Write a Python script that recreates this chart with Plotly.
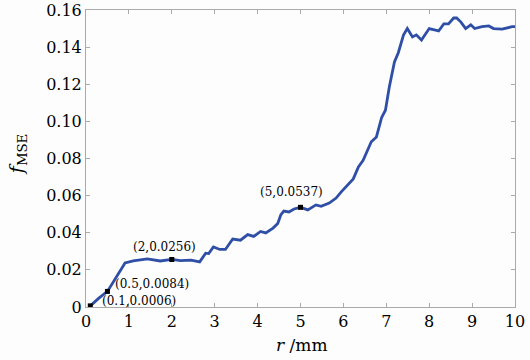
import plotly.graph_objects as go

r_mm = [0.1, 0.3, 0.5, 0.7, 0.91, 1.1, 1.43, 1.73, 2.0, 2.2, 2.45, 2.65, 2.79, 2.86, 2.97, 3.12,
        3.25, 3.42, 3.6, 3.77, 3.91, 4.07, 4.19, 4.36, 4.47, 4.54, 4.61, 4.73, 4.85, 5.0,
        5.17, 5.36, 5.48, 5.67, 5.83, 5.95, 6.1, 6.23, 6.35, 6.46, 6.65, 6.77, 6.89, 6.98,
        7.07, 7.19, 7.28, 7.4, 7.49, 7.61, 7.7, 7.82, 8.0, 8.22, 8.34, 8.45, 8.57, 8.64,
        8.74, 8.85, 8.97, 9.06, 9.23, 9.39, 9.5, 9.63, 9.7, 9.93, 10.0]
f_mse = [0.0006, 0.0048, 0.0084, 0.016, 0.0237, 0.0248, 0.0259, 0.0248, 0.0256, 0.0250, 0.0252, 0.0243, 0.0290, 0.0288, 0.0323, 0.0310,
         0.0310, 0.0366, 0.0360, 0.0390, 0.0380, 0.0407, 0.0399, 0.0425, 0.0450, 0.0496, 0.0517, 0.0512, 0.0528, 0.0537,
         0.0523, 0.0550, 0.0542, 0.0560, 0.0587, 0.0620, 0.0655, 0.0690, 0.0755, 0.0790, 0.0890, 0.0916, 0.1020, 0.1060,
         0.1185, 0.1320, 0.1370, 0.1465, 0.1500, 0.1455, 0.1466, 0.1438, 0.1500, 0.1487, 0.1525, 0.1525, 0.1557, 0.1557,
         0.1535, 0.1500, 0.1520, 0.1500, 0.1510, 0.1514, 0.1500, 0.1500, 0.1497, 0.1510, 0.1510]

mark_x = [0.1, 0.5, 2, 5]
mark_y = [0.0006, 0.0084, 0.0256, 0.0537]
mark_labels = ["(0.1,0.0006)", "(0.5,0.0084)", "(2,0.0256)", "(5,0.0537)"]

x_ticks = list(range(0, 11))
y_ticks = [0, 0.02, 0.04, 0.06, 0.08, 0.10, 0.12, 0.14, 0.16]
y_ticktext = ["0", "0.02", "0.04", "0.06", "0.08", "0.10", "0.12", "0.14", "0.16"]

FONT = "DejaVu Serif"

fig = go.Figure()
fig.add_trace(go.Scatter(x=r_mm, y=f_mse, mode="lines",
                         line=dict(color="#2f4fa6", width=2.8), showlegend=False))
fig.add_trace(go.Scatter(x=mark_x, y=mark_y, mode="markers",
                         marker=dict(symbol="square", size=5, color="black"), showlegend=False))

# label placements: (xanchor, xshift, yshift) in px
placements = [("left", 11, 5), ("left", 7, 7), ("center", -7, 12), ("center", -9, 15)]
for x, y, t, (al, dx, dy) in zip(mark_x, mark_y, mark_labels, placements):
    fig.add_annotation(x=x, y=y, text=t, showarrow=False, xanchor=al, yanchor="middle",
                       xshift=dx, yshift=dy, borderpad=0,
                       font=dict(family=FONT, size=12, color="black"))

# axis titles
fig.add_annotation(xref="paper", yref="paper", x=-0.158, y=0.512, text="<i>f</i><sub>MSE</sub>",
                   textangle=-90, showarrow=False, xanchor="center", yanchor="middle",
                   font=dict(family=FONT, size=19, color="black"))
fig.add_annotation(xref="paper", yref="paper", x=0.503, y=-0.128, text="<i>r</i> /mm",
                   showarrow=False, xanchor="center", yanchor="middle",
                   font=dict(family=FONT, size=17, color="black"))

axis_common = dict(showline=True, linecolor="#aaaaaa", linewidth=1, mirror="ticks",
                   ticks="inside", ticklen=4, tickcolor="#aaaaaa", showgrid=False,
                   zeroline=False, automargin=False,
                   tickfont=dict(family=FONT, size=16, color="black"))

fig.update_xaxes(range=[0, 10], tickvals=x_ticks, **axis_common)
fig.update_yaxes(range=[0, 0.16], tickvals=y_ticks, ticktext=y_ticktext, **axis_common)

fig.update_layout(width=530, height=360, margin=dict(l=86, r=15, t=10, b=53),
                  plot_bgcolor="#fdfdfd", paper_bgcolor="#fdfdfd")

# remove the default page body margin so the figure sits at the window's corner
fig.write_html("out.html", config={"displayModeBar": False},
               post_script="document.body.style.margin='0';")
